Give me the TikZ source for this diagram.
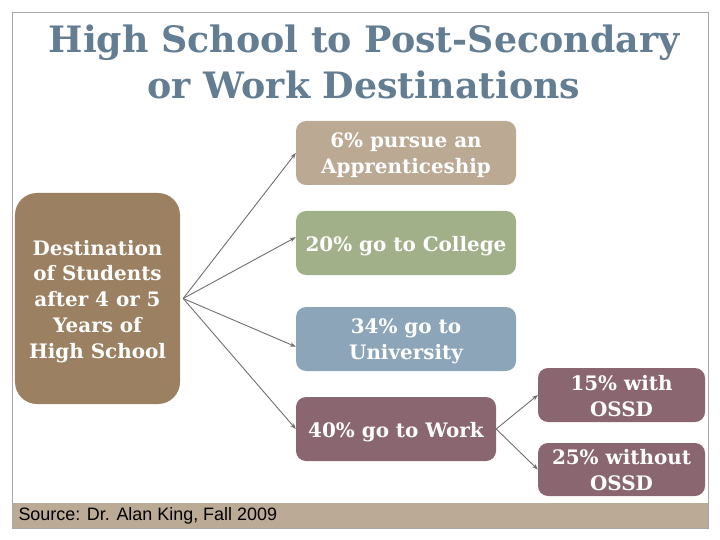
\documentclass[tikz,border=0pt]{standalone}
\usepackage{fontspec}
\setmainfont{DejaVu Serif}
\setsansfont{Liberation Sans}
\usetikzlibrary{arrows.meta}
\definecolor{titlec}{HTML}{637D93}
\definecolor{leftc}{HTML}{9B8061}
\definecolor{apprc}{HTML}{BBA994}
\definecolor{collc}{HTML}{A1B089}
\definecolor{univc}{HTML}{8CA5B8}
\definecolor{workc}{HTML}{8A6670}
\definecolor{footc}{HTML}{BBAA96}
\definecolor{framec}{HTML}{A8A8A8}
\definecolor{arrc}{HTML}{707070}
\tikzset{
  box/.style={rectangle, rounded corners=10bp, inner sep=0pt},
  boxtext/.style={text=white, align=center, inner sep=0pt,
    font=\fontsize{20}{26}\selectfont\bfseries},
  conn/.style={draw=arrc, line width=0.9bp, -{Stealth[length=6bp,width=4.5bp]}},
}
\begin{document}
\begin{tikzpicture}[x=1bp,y=-1bp]
\useasboundingbox (0,0) rectangle (720,540);
\fill[white] (0,0) rectangle (720,540);
% footer band and frame
\fill[footc] (12,503) rectangle (708,528);
\draw[framec, line width=0.8bp] (12,12) rectangle (708,528);
% title
\node[text=titlec, align=center, font=\fontsize{36.5}{47}\selectfont\bfseries] (title) at (364,62)
  {High School to Post-Secondary\\or Work Destinations};
% boxes
\node[box, fill=leftc, rounded corners=22bp, minimum width=165bp, minimum height=211bp] (left) at (97.5,298.5) {};
\node[box, fill=apprc, minimum width=220bp, minimum height=64bp] (appr) at (406,153) {};
\node[box, fill=collc, minimum width=220bp, minimum height=64bp] (coll) at (406,243) {};
\node[box, fill=univc, minimum width=220bp, minimum height=64bp] (univ) at (406,339) {};
\node[box, fill=workc, minimum width=200bp, minimum height=64bp] (work) at (396,429) {};
\node[box, fill=workc, minimum width=167bp, minimum height=54bp] (with) at (621.5,395) {};
\node[box, fill=workc, minimum width=167bp, minimum height=53bp] (without) at (621.5,469.5) {};
% box texts
\node[boxtext] (left-t) at ([yshift=-3bp]left.center)
  {Destination\\of Students\\after 4 or 5\\Years of\\High School};
\node[boxtext] (appr-t) at ([yshift=-2bp]appr.center) {6\% pursue an\\Apprenticeship};
\node[boxtext] (coll-t) at ([yshift=-3bp]coll.center) {20\% go to College};
\node[boxtext] (univ-t) at ([yshift=-2bp]univ.center) {34\% go to\\University};
\node[boxtext] (work-t) at ([yshift=-3bp]work.center) {40\% go to Work};
\node[boxtext] (with-t) at ([yshift=-1bp]with.center) {15\% with\\OSSD};
\node[boxtext] (without-t) at ([yshift=-1bp]without.center) {25\% without\\OSSD};
% connectors
\coordinate (src) at ([xshift=3bp]left.east);
\draw[conn] (src) -- (appr.west);
\draw[conn] (src) -- (coll.177);
\draw[conn] (src) -- (univ.184);
\draw[conn] (src) -- (work.west);
\draw[conn] (work.east) -- (with.west);
\draw[conn] (work.east) -- (without.west);
% footer text
\node[anchor=west, font=\sffamily\fontsize{18}{20}\selectfont, text=black] (src-text) at (15,516)
  {Source: Dr. Alan King, Fall 2009};
\end{tikzpicture}
\end{document}
